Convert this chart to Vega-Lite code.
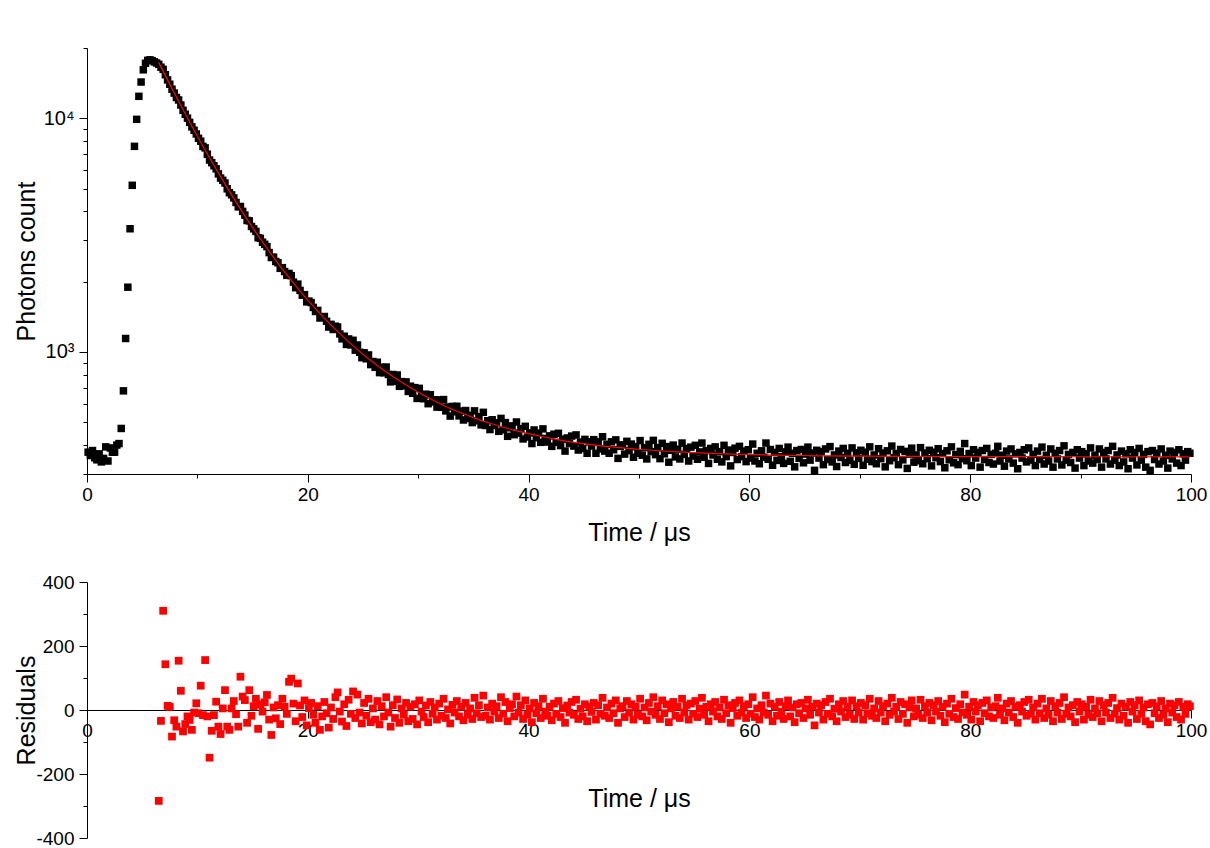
{
"$schema": "https://vega.github.io/schema/vega-lite/v6.json",
"padding": {"left": 14, "top": 38, "right": 5, "bottom": 5},
"config": {"font": "Liberation Sans", "view": {"stroke": null},
 "axis": {"grid": false, "domainColor": "#000", "tickColor": "#000", "labelColor": "#000", "titleColor": "#000", "labelFontSize": 19, "titleFontSize": 25, "titleFontWeight": "normal", "labelFlush": false, "labelOverlap": false, "domainWidth": 1, "tickWidth": 1}},
"datasets": {
"d": [
{"t":0.1,"c":372},{"t":0.3,"c":360},{"t":0.5,"c":378},{"t":0.7,"c":352},{"t":0.9,"c":345},{"t":1.1,"c":366},{"t":1.3,"c":338},{"t":1.5,"c":350},{"t":1.7,"c":392},{"t":1.9,"c":341},{"t":2.1,"c":388},{"t":2.3,"c":372},{"t":2.5,"c":372},{"t":2.7,"c":399},{"t":2.9,"c":405},{"t":3.1,"c":470},{"t":3.3,"c":681},{"t":3.5,"c":1141},{"t":3.7,"c":1892},{"t":3.9,"c":3366},{"t":4.1,"c":5166},{"t":4.3,"c":7586},{"t":4.5,"c":9900},{"t":4.7,"c":12420},{"t":4.9,"c":14300},{"t":5.1,"c":16130},{"t":5.3,"c":17200},{"t":5.5,"c":17700},{"t":5.7,"c":17800},{"t":5.9,"c":17650},{"t":6.1,"c":17450},{"t":6.3,"c":17250},
{"t":6.5,"c":17031,"r":-284},{"t":6.7,"c":16555,"r":-34},{"t":6.9,"c":16203,"r":310},{"t":7.1,"c":15369,"r":143},{"t":7.3,"c":14601,"r":13},{"t":7.5,"c":13986,"r":10},{"t":7.7,"c":13321,"r":-83},{"t":7.9,"c":12823,"r":-32},{"t":8.1,"c":12277,"r":-52},{"t":8.3,"c":11978,"r":154},{"t":8.5,"c":11400,"r":60},{"t":8.7,"c":10821,"r":-67},{"t":8.9,"c":10410,"r":-44},{"t":9.1,"c":10018,"r":-20},{"t":9.3,"c":9607,"r":-31},{"t":9.5,"c":9192,"r":-62},{"t":9.7,"c":8888,"r":-8},{"t":9.9,"c":8573,"r":21},{"t":10.1,"c":8211,"r":-10},{"t":10.3,"c":7979,"r":76},{"t":10.5,"c":7582,"r":-16},{"t":10.7,"c":7470,"r":156},{"t":10.9,"c":7020,"r":-20},{"t":11.1,"c":6628,"r":-149},{"t":11.3,"c":6458,"r":-65},{"t":11.5,"c":6263,"r":-16},{"t":11.7,"c":6078,"r":26},{"t":11.9,"c":5782,"r":-52},{"t":12.1,"c":5548,"r":-75},{"t":12.3,"c":5425,"r":5},{"t":12.5,"c":5286,"r":62},{"t":12.7,"c":4990,"r":-52},{"t":12.9,"c":4805,"r":-62},{"t":13.1,"c":4702,"r":5},{"t":13.3,"c":4562,"r":28},{"t":13.5,"c":4363,"r":-13},{"t":13.7,"c":4178,"r":-52},{"t":13.9,"c":4193,"r":104},{"t":14.1,"c":3995,"r":42},{"t":14.3,"c":3852,"r":31},{"t":14.5,"c":3654,"r":-40},{"t":14.7,"c":3638,"r":62},{"t":14.9,"c":3444,"r":-18},{"t":15.1,"c":3363,"r":12},{"t":15.3,"c":3279,"r":35},{"t":15.5,"c":3082,"r":-59},{"t":15.7,"c":3063,"r":18},{"t":15.9,"c":2948,"r":-5},
{"t":16.1,"c":2887,"r":24},{"t":16.3,"c":2823,"r":47},{"t":16.5,"c":2661,"r":-30},{"t":16.7,"c":2535,"r":-78},{"t":16.9,"c":2545,"r":8},{"t":17.1,"c":2438,"r":-26},{"t":17.3,"c":2407,"r":15},{"t":17.5,"c":2279,"r":-44},{"t":17.7,"c":2294,"r":35},{"t":17.9,"c":2208,"r":10},{"t":18.1,"c":2126,"r":-12},{"t":18.3,"c":2167,"r":88},{"t":18.5,"c":2120,"r":98},{"t":18.7,"c":1989,"r":20},{"t":18.9,"c":1883,"r":-35},{"t":19.1,"c":1950,"r":83},{"t":19.3,"c":1833,"r":14},{"t":19.5,"c":1749,"r":-22},{"t":19.7,"c":1758,"r":30},{"t":19.9,"c":1637,"r":-48},{"t":20.1,"c":1650,"r":6},{"t":20.3,"c":1626,"r":22},{"t":20.5,"c":1550,"r":-15},{"t":20.7,"c":1489,"r":-40},{"t":20.9,"c":1505,"r":12},{"t":21.1,"c":1397,"r":-62},{"t":21.3,"c":1405,"r":-20},{"t":21.5,"c":1417,"r":25},{"t":21.7,"c":1352,"r":-10},{"t":21.9,"c":1277,"r":-55},{"t":22.1,"c":1312,"r":8},{"t":22.3,"c":1247,"r":-28},{"t":22.5,"c":1288,"r":40},{"t":22.7,"c":1278,"r":55},{"t":22.9,"c":1193,"r":-5},{"t":23.1,"c":1137,"r":-36},{"t":23.3,"c":1167,"r":18},{"t":23.5,"c":1076,"r":-50},{"t":23.7,"c":1136,"r":32},{"t":23.9,"c":1071,"r":-12},{"t":24.1,"c":1121,"r":58},{"t":24.3,"c":1017,"r":-25},{"t":24.5,"c":1070,"r":48},{"t":24.7,"c":996,"r":-8},{"t":24.9,"c":944,"r":-42},{"t":25.1,"c":991,"r":22},{"t":25.3,"c":934,"r":-18},{"t":25.5,"c":970,"r":35},{"t":25.7,"c":882,"r":-38},{"t":25.9,"c":909,"r":5},
{"t":26.1,"c":859,"r":-30},{"t":26.3,"c":903,"r":28},{"t":26.5,"c":815,"r":-45},{"t":26.7,"c":859,"r":12},{"t":26.9,"c":814,"r":-20},{"t":27.1,"c":861,"r":40},{"t":27.3,"c":800,"r":-8},{"t":27.5,"c":744,"r":-52},{"t":27.7,"c":800,"r":15},{"t":27.9,"c":749,"r":-25},{"t":28.1,"c":796,"r":33},{"t":28.3,"c":712,"r":-40},{"t":28.5,"c":746,"r":5},{"t":28.7,"c":716,"r":-15},{"t":28.9,"c":744,"r":22},{"t":29.1,"c":677,"r":-35},{"t":29.3,"c":713,"r":10},{"t":29.5,"c":665,"r":-28},{"t":29.7,"c":703,"r":18},{"t":29.9,"c":632,"r":-45},{"t":30.1,"c":698,"r":30},{"t":30.3,"c":655,"r":-5},{"t":30.5,"c":630,"r":-22},{"t":30.7,"c":659,"r":14},{"t":30.9,"c":600,"r":-38},{"t":31.1,"c":655,"r":25},{"t":31.3,"c":611,"r":-12},{"t":31.5,"c":624,"r":8},{"t":31.7,"c":580,"r":-30},{"t":31.9,"c":623,"r":20},{"t":32.1,"c":579,"r":-18},{"t":32.3,"c":625,"r":35},{"t":32.5,"c":559,"r":-25},{"t":32.7,"c":581,"r":2},{"t":32.9,"c":531,"r":-42},{"t":33.1,"c":584,"r":16},{"t":33.3,"c":554,"r":-8},{"t":33.5,"c":585,"r":28},{"t":33.7,"c":532,"r":-20},{"t":33.9,"c":558,"r":10},{"t":34.1,"c":511,"r":-32},{"t":34.3,"c":561,"r":22},{"t":34.5,"c":519,"r":-15},{"t":34.7,"c":535,"r":5},{"t":34.9,"c":498,"r":-28},{"t":35.1,"c":559,"r":38},{"t":35.3,"c":507,"r":-10},{"t":35.5,"c":528,"r":15},{"t":35.7,"c":487,"r":-22},{"t":35.9,"c":551,"r":45},
{"t":36.1,"c":484,"r":-18},{"t":36.3,"c":507,"r":8},{"t":36.5,"c":465,"r":-30},{"t":36.7,"c":512,"r":20},{"t":36.9,"c":484,"r":-5},{"t":37.1,"c":497,"r":12},{"t":37.3,"c":457,"r":-25},{"t":37.5,"c":519,"r":40},{"t":37.7,"c":464,"r":-12},{"t":37.9,"c":498,"r":25},{"t":38.1,"c":435,"r":-35},{"t":38.3,"c":473,"r":6},{"t":38.5,"c":482,"r":18},{"t":38.7,"c":442,"r":-20},{"t":38.9,"c":501,"r":42},{"t":39.1,"c":449,"r":-8},{"t":39.3,"c":469,"r":15},{"t":39.5,"c":424,"r":-28},{"t":39.7,"c":480,"r":30},{"t":39.9,"c":432,"r":-15},{"t":40.1,"c":450,"r":5},{"t":40.3,"c":405,"r":-38},{"t":40.5,"c":463,"r":22},{"t":40.7,"c":429,"r":-10},{"t":40.9,"c":449,"r":12},{"t":41.1,"c":410,"r":-25},{"t":41.3,"c":468,"r":35},{"t":41.5,"c":426,"r":-5},{"t":41.7,"c":411,"r":-18},{"t":41.9,"c":437,"r":10},{"t":42.1,"c":394,"r":-32},{"t":42.3,"c":444,"r":20},{"t":42.5,"c":410,"r":-12},{"t":42.7,"c":448,"r":28},{"t":42.9,"c":397,"r":-22},{"t":43.1,"c":423,"r":6},{"t":43.3,"c":376,"r":-40},{"t":43.5,"c":428,"r":14},{"t":43.7,"c":405,"r":-8},{"t":43.9,"c":436,"r":25},{"t":44.1,"c":395,"r":-15},{"t":44.3,"c":441,"r":32},{"t":44.5,"c":380,"r":-28},{"t":44.7,"c":411,"r":4},{"t":44.9,"c":385,"r":-20},{"t":45.1,"c":422,"r":18},{"t":45.3,"c":368,"r":-35},{"t":45.5,"c":412,"r":10},{"t":45.7,"c":395,"r":-6},{"t":45.9,"c":421,"r":22},{"t":46.1,"c":368,"r":-30},{"t":46.3,"c":412,"r":15},{"t":46.5,"c":384,"r":-12},{"t":46.7,"c":433,"r":38},{"t":46.9,"c":376,"r":-18},{"t":47.1,"c":402,"r":8},{"t":47.3,"c":368,"r":-25},{"t":47.5,"c":412,"r":20},{"t":47.7,"c":381,"r":-10},{"t":47.9,"c":420,"r":30},{"t":48.1,"c":350,"r":-40},{"t":48.3,"c":394,"r":5},{"t":48.5,"c":400,"r":12},{"t":48.7,"c":365,"r":-22},{"t":48.9,"c":414,"r":28},{"t":49.1,"c":378,"r":-8},{"t":49.3,"c":403,"r":18},{"t":49.5,"c":354,"r":-30},{"t":49.7,"c":393,"r":10},{"t":49.9,"c":368,"r":-15},
{"t":50.1,"c":417,"r":35},{"t":50.3,"c":361,"r":-20},{"t":50.5,"c":389,"r":8},{"t":50.7,"c":348,"r":-32},{"t":50.9,"c":402,"r":22},{"t":51.1,"c":374,"r":-5},{"t":51.3,"c":418,"r":40},{"t":51.5,"c":363,"r":-15},{"t":51.7,"c":389,"r":12},{"t":51.9,"c":349,"r":-28},{"t":52.1,"c":406,"r":30},{"t":52.3,"c":366,"r":-10},{"t":52.5,"c":393,"r":18},{"t":52.7,"c":337,"r":-38},{"t":52.9,"c":379,"r":5},{"t":53.1,"c":399,"r":25},{"t":53.3,"c":355,"r":-18},{"t":53.5,"c":383,"r":10},{"t":53.7,"c":348,"r":-25},{"t":53.9,"c":407,"r":35},{"t":54.1,"c":364,"r":-8},{"t":54.3,"c":386,"r":15},{"t":54.5,"c":341,"r":-30},{"t":54.7,"c":391,"r":20},{"t":54.9,"c":358,"r":-12},{"t":55.1,"c":398,"r":28},{"t":55.3,"c":347,"r":-22},{"t":55.5,"c":373,"r":4},{"t":55.7,"c":407,"r":38},{"t":55.9,"c":354,"r":-15},{"t":56.1,"c":378,"r":10},{"t":56.3,"c":333,"r":-35},{"t":56.5,"c":386,"r":18},{"t":56.7,"c":362,"r":-5},{"t":56.9,"c":392,"r":25},{"t":57.1,"c":347,"r":-20},{"t":57.3,"c":374,"r":8},{"t":57.5,"c":338,"r":-28},{"t":57.7,"c":398,"r":32},{"t":57.9,"c":356,"r":-10},{"t":58.1,"c":380,"r":15},{"t":58.3,"c":325,"r":-40},{"t":58.5,"c":371,"r":6},{"t":58.7,"c":387,"r":22},{"t":58.9,"c":346,"r":-18},{"t":59.1,"c":394,"r":30},{"t":59.3,"c":356,"r":-8},{"t":59.5,"c":376,"r":12},{"t":59.7,"c":339,"r":-25},{"t":59.9,"c":381,"r":18},
{"t":60.1,"c":351,"r":-12},{"t":60.3,"c":403,"r":40},{"t":60.5,"c":341,"r":-22},{"t":60.7,"c":368,"r":5},{"t":60.9,"c":332,"r":-30},{"t":61.1,"c":377,"r":15},{"t":61.3,"c":354,"r":-8},{"t":61.5,"c":407,"r":45},{"t":61.7,"c":347,"r":-15},{"t":61.9,"c":382,"r":20},{"t":62.1,"c":327,"r":-35},{"t":62.3,"c":371,"r":10},{"t":62.5,"c":343,"r":-18},{"t":62.7,"c":386,"r":25},{"t":62.9,"c":356,"r":-5},{"t":63.1,"c":333,"r":-28},{"t":63.3,"c":373,"r":12},{"t":63.5,"c":391,"r":30},{"t":63.7,"c":340,"r":-20},{"t":63.9,"c":368,"r":8},{"t":64.1,"c":322,"r":-38},{"t":64.3,"c":378,"r":18},{"t":64.5,"c":350,"r":-10},{"t":64.7,"c":382,"r":22},{"t":64.9,"c":335,"r":-25},{"t":65.1,"c":365,"r":5},{"t":65.3,"c":391,"r":32},{"t":65.5,"c":344,"r":-15},{"t":65.7,"c":369,"r":10},{"t":65.9,"c":311,"r":-48},{"t":66.1,"c":379,"r":20},{"t":66.3,"c":351,"r":-8},{"t":66.5,"c":374,"r":15},{"t":66.7,"c":329,"r":-30},{"t":66.9,"c":384,"r":25},{"t":67.1,"c":346,"r":-12},{"t":67.3,"c":393,"r":35},{"t":67.5,"c":338,"r":-20},{"t":67.7,"c":362,"r":4},{"t":67.9,"c":323,"r":-35},{"t":68.1,"c":376,"r":18},{"t":68.3,"c":353,"r":-5},{"t":68.5,"c":386,"r":28},{"t":68.7,"c":336,"r":-22},{"t":68.9,"c":368,"r":10},{"t":69.1,"c":343,"r":-15},{"t":69.3,"c":388,"r":30},{"t":69.5,"c":330,"r":-28},{"t":69.7,"c":370,"r":12},{"t":69.9,"c":350,"r":-8},
{"t":70.1,"c":379,"r":22},{"t":70.3,"c":327,"r":-30},{"t":70.5,"c":372,"r":15},{"t":70.7,"c":347,"r":-10},{"t":70.9,"c":392,"r":35},{"t":71.1,"c":339,"r":-18},{"t":71.3,"c":362,"r":5},{"t":71.5,"c":332,"r":-25},{"t":71.7,"c":385,"r":28},{"t":71.9,"c":349,"r":-8},{"t":72.1,"c":369,"r":12},{"t":72.3,"c":322,"r":-35},{"t":72.5,"c":377,"r":20},{"t":72.7,"c":342,"r":-15},{"t":72.9,"c":395,"r":38},{"t":73.1,"c":352,"r":-5},{"t":73.3,"c":367,"r":10},{"t":73.5,"c":329,"r":-28},{"t":73.7,"c":382,"r":25},{"t":73.9,"c":345,"r":-12},{"t":74.1,"c":375,"r":18},{"t":74.3,"c":317,"r":-40},{"t":74.5,"c":365,"r":8},{"t":74.7,"c":387,"r":30},{"t":74.9,"c":337,"r":-20},{"t":75.1,"c":362,"r":5},{"t":75.3,"c":342,"r":-15},{"t":75.5,"c":389,"r":32},{"t":75.7,"c":332,"r":-25},{"t":75.9,"c":369,"r":12},{"t":76.1,"c":349,"r":-8},{"t":76.3,"c":379,"r":22},{"t":76.5,"c":325,"r":-32},{"t":76.7,"c":372,"r":15},{"t":76.9,"c":352,"r":-5},{"t":77.1,"c":385,"r":28},{"t":77.3,"c":339,"r":-18},{"t":77.5,"c":367,"r":10},{"t":77.7,"c":319,"r":-38},{"t":77.9,"c":377,"r":20},{"t":78.1,"c":345,"r":-12},{"t":78.3,"c":392,"r":35},{"t":78.5,"c":335,"r":-22},{"t":78.7,"c":363,"r":6},{"t":78.9,"c":329,"r":-28},{"t":79.1,"c":375,"r":18},{"t":79.3,"c":349,"r":-8},{"t":79.5,"c":405,"r":48},{"t":79.7,"c":342,"r":-15},{"t":79.9,"c":367,"r":10},
{"t":80.1,"c":326,"r":-30},{"t":80.3,"c":381,"r":25},{"t":80.5,"c":351,"r":-5},{"t":80.7,"c":371,"r":15},{"t":80.9,"c":321,"r":-35},{"t":81.1,"c":378,"r":22},{"t":81.3,"c":346,"r":-10},{"t":81.5,"c":386,"r":30},{"t":81.7,"c":336,"r":-20},{"t":81.9,"c":364,"r":8},{"t":82.1,"c":331,"r":-25},{"t":82.3,"c":368,"r":12},{"t":82.5,"c":394,"r":38},{"t":82.7,"c":341,"r":-15},{"t":82.9,"c":361,"r":5},{"t":83.1,"c":324,"r":-32},{"t":83.3,"c":376,"r":20},{"t":83.5,"c":348,"r":-8},{"t":83.7,"c":384,"r":28},{"t":83.9,"c":334,"r":-22},{"t":84.1,"c":366,"r":10},{"t":84.3,"c":316,"r":-40},{"t":84.5,"c":371,"r":15},{"t":84.7,"c":351,"r":-5},{"t":84.9,"c":381,"r":25},{"t":85.1,"c":338,"r":-18},{"t":85.3,"c":388,"r":32},{"t":85.5,"c":344,"r":-12},{"t":85.7,"c":364,"r":8},{"t":85.9,"c":326,"r":-30},{"t":86.1,"c":376,"r":20},{"t":86.3,"c":346,"r":-10},{"t":86.5,"c":391,"r":35},{"t":86.7,"c":331,"r":-25},{"t":86.9,"c":361,"r":5},{"t":87.1,"c":341,"r":-15},{"t":87.3,"c":384,"r":28},{"t":87.5,"c":321,"r":-35},{"t":87.7,"c":368,"r":12},{"t":87.9,"c":348,"r":-8},{"t":88.1,"c":378,"r":22},{"t":88.3,"c":328,"r":-28},{"t":88.5,"c":396,"r":40},{"t":88.7,"c":344,"r":-12},{"t":88.9,"c":364,"r":8},{"t":89.1,"c":336,"r":-20},{"t":89.3,"c":371,"r":15},{"t":89.5,"c":318,"r":-38},{"t":89.7,"c":381,"r":25},{"t":89.9,"c":351,"r":-5},
{"t":90.1,"c":374,"r":18},{"t":90.3,"c":326,"r":-30},{"t":90.5,"c":366,"r":10},{"t":90.7,"c":341,"r":-15},{"t":90.9,"c":388,"r":32},{"t":91.1,"c":334,"r":-22},{"t":91.3,"c":361,"r":5},{"t":91.5,"c":346,"r":-10},{"t":91.7,"c":384,"r":28},{"t":91.9,"c":321,"r":-35},{"t":92.1,"c":371,"r":15},{"t":92.3,"c":348,"r":-8},{"t":92.5,"c":378,"r":22},{"t":92.7,"c":331,"r":-25},{"t":92.9,"c":394,"r":38},{"t":93.1,"c":344,"r":-12},{"t":93.3,"c":362,"r":6},{"t":93.5,"c":326,"r":-30},{"t":93.7,"c":376,"r":20},{"t":93.9,"c":338,"r":-18},{"t":94.1,"c":366,"r":10},{"t":94.3,"c":316,"r":-40},{"t":94.5,"c":381,"r":25},{"t":94.7,"c":351,"r":-5},{"t":94.9,"c":371,"r":15},{"t":95.1,"c":328,"r":-28},{"t":95.3,"c":386,"r":30},{"t":95.5,"c":344,"r":-12},{"t":95.7,"c":364,"r":8},{"t":95.9,"c":321,"r":-35},{"t":96.1,"c":374,"r":18},{"t":96.3,"c":311,"r":-45},{"t":96.5,"c":378,"r":22},{"t":96.7,"c":346,"r":-10},{"t":96.9,"c":368,"r":12},{"t":97.1,"c":331,"r":-25},{"t":97.3,"c":384,"r":28},{"t":97.5,"c":341,"r":-15},{"t":97.7,"c":361,"r":5},{"t":97.9,"c":318,"r":-38},{"t":98.1,"c":376,"r":20},{"t":98.3,"c":348,"r":-8},{"t":98.5,"c":371,"r":15},{"t":98.7,"c":334,"r":-22},{"t":98.9,"c":381,"r":25},{"t":99.1,"c":326,"r":-30},{"t":99.3,"c":366,"r":10},{"t":99.5,"c":344,"r":-12},{"t":99.7,"c":374,"r":18},{"t":99.9,"c":368,"r":12}
],
"fit": [
{"t":6.5,"f":17315},{"t":7.5,"f":13976},{"t":8.5,"f":11340},{"t":9.5,"f":9254},{"t":10.5,"f":7598},{"t":11.5,"f":6279},{"t":12.5,"f":5224},{"t":13.5,"f":4376},{"t":14.5,"f":3694},{"t":15.5,"f":3141},{"t":16.5,"f":2691},{"t":17.5,"f":2323},{"t":18.5,"f":2022},{"t":19.5,"f":1771},{"t":20.5,"f":1565},{"t":21.5,"f":1392},{"t":22.5,"f":1248},{"t":23.5,"f":1126},{"t":24.5,"f":1022},{"t":25.5,"f":935},{"t":26.5,"f":860},{"t":27.5,"f":796},{"t":28.5,"f":741},{"t":29.5,"f":693},{"t":30.5,"f":652},{"t":31.5,"f":616},{"t":32.5,"f":584},{"t":33.5,"f":557},{"t":34.5,"f":534},{"t":35.5,"f":513},{"t":36.5,"f":495},{"t":37.5,"f":479},{"t":38.5,"f":464},{"t":39.5,"f":452},{"t":40.5,"f":441},{"t":41.5,"f":431},{"t":42.5,"f":422},{"t":43.5,"f":414},{"t":44.5,"f":408},{"t":45.5,"f":402},{"t":46.5,"f":396},{"t":47.5,"f":392},{"t":48.5,"f":388},{"t":49.5,"f":384},{"t":50.5,"f":381},{"t":52.5,"f":375.5},{"t":54.5,"f":371},{"t":56.5,"f":367.8},{"t":58.5,"f":365.1},{"t":60.5,"f":363},{"t":62.5,"f":361.3},{"t":64.5,"f":360},{"t":66.5,"f":358.9},{"t":70,"f":357.6},{"t":75,"f":356.8},{"t":80,"f":356.3},{"t":90,"f":355.7},{"t":99.9,"f":355.4}
]
},
"vconcat": [
{
 "width": 1104, "height": 426,
 "layer": [
  {"data": {"name": "d"}, "mark": {"type": "point", "shape": "square", "filled": true, "color": "#000", "opacity": 1, "size": 56},
   "encoding": {
    "x": {"field": "t", "type": "quantitative", "scale": {"domain": [0, 100], "nice": false, "zero": false},
      "axis": {"title": "Time / μs", "values": [0,10,20,30,40,50,60,70,80,90,100], "labelExpr": "datum.value % 20 == 0 ? datum.label : ''", "tickSize": {"condition": {"test": "datum.value % 20 == 0", "value": 8}, "value": 4}, "labelPadding": 3, "titleY": 66, "titleBaseline": "alphabetic"}},
    "y": {"field": "c", "type": "quantitative", "scale": {"type": "log", "domain": [300, 20000], "nice": false},
      "axis": {"title": "Photons count", "values": [300,400,500,600,700,800,900,1000,2000,3000,4000,5000,6000,7000,8000,9000,10000,20000], "labelExpr": "datum.value == 1000 ? '10³' : datum.value == 10000 ? '10⁴' : ''", "tickSize": {"condition": {"test": "datum.value == 1000 || datum.value == 10000", "value": 8}, "value": 4}, "labelPadding": 5, "labelFontSize": 20, "titleX": -53, "titleBaseline": "alphabetic"}}
   }},
  {"data": {"name": "fit"}, "mark": {"type": "line", "color": "#ff0000", "strokeWidth": 1.2},
   "encoding": {"x": {"field": "t", "type": "quantitative"}, "y": {"field": "f", "type": "quantitative"}}}
 ]
},
{
 "width": 1104, "height": 256,
 "data": {"name": "d"},
 "transform": [{"filter": "datum.r != null"}],
 "mark": {"type": "point", "shape": "square", "filled": true, "color": "#ff0000", "opacity": 1, "size": 60},
 "encoding": {
  "x": {"field": "t", "type": "quantitative", "scale": {"domain": [0, 100], "nice": false, "zero": false},
    "axis": {"title": "Time / μs", "offset": -128, "values": [0,10,20,30,40,50,60,70,80,90,100], "labelExpr": "datum.value % 20 == 0 ? datum.label : ''", "tickSize": {"condition": {"test": "datum.value % 20 == 0", "value": 8}, "value": 4}, "labelPadding": 3, "titleY": 96, "titleBaseline": "alphabetic"}},
  "y": {"field": "r", "type": "quantitative", "scale": {"domain": [-400, 400], "nice": false},
    "axis": {"title": "Residuals", "values": [-400,-300,-200,-100,0,100,200,300,400], "labelExpr": "datum.value % 200 == 0 ? toString(datum.value) : ''", "tickSize": {"condition": {"test": "datum.value % 200 == 0", "value": 8}, "value": 4}, "labelPadding": 5, "titleX": -53, "titleBaseline": "alphabetic"}}
 }
}
],
"spacing": 108,
"bounds": "flush"
}
